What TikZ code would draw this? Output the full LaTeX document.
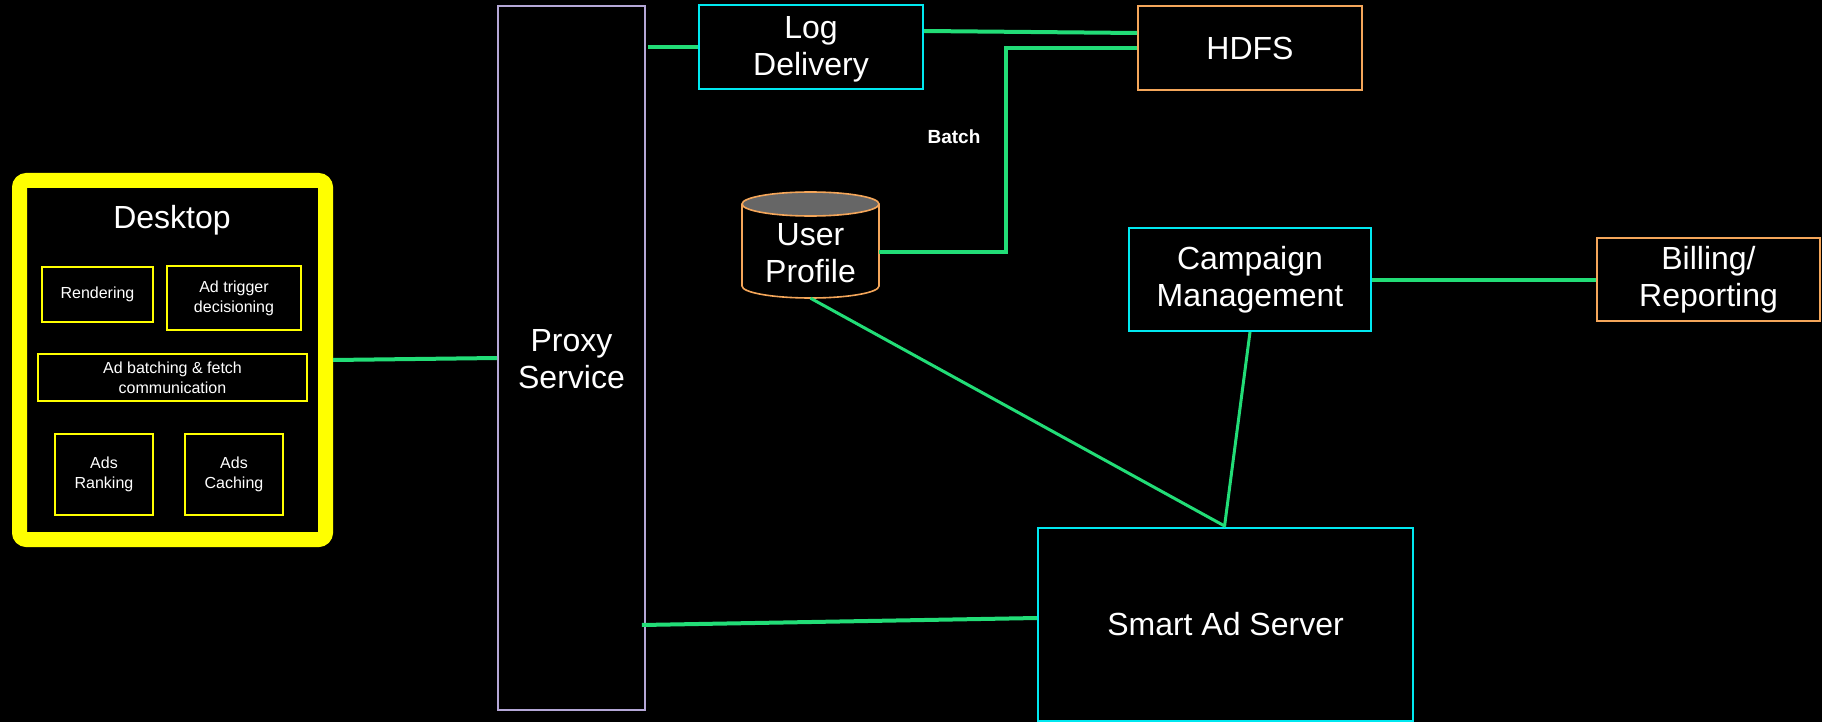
\documentclass[tikz,border=0pt]{standalone}
\usepackage{fontspec}
\setmainfont{Liberation Sans}
\usetikzlibrary{calc}
\definecolor{linkgreen}{HTML}{22DD77}
\definecolor{boxcyan}{HTML}{00E8F0}
\definecolor{boxorange}{HTML}{F4A65A}
\definecolor{boxlav}{HTML}{B4A7D6}
\definecolor{boxyellow}{HTML}{FFFF00}
\definecolor{dbgray}{HTML}{666666}
\tikzset{
  big/.style={font=\fontsize{32}{37}\selectfont, text=white, align=center},
  small/.style={font=\fontsize{16}{20}\selectfont, text=white, align=center},
  boxbase/.style={rectangle, inner sep=0pt, fill=black},
  cyanbox/.style={boxbase, big, draw=boxcyan, line width=2pt},
  orangebox/.style={boxbase, big, draw=boxorange, line width=2pt},
  subbox/.style={boxbase, small, draw=boxyellow, line width=1.6pt},
  link/.style={draw=linkgreen, line width=4pt},
  thinlink/.style={draw=linkgreen, line width=3pt},
}
\begin{document}
\begin{tikzpicture}[x=1pt, y=-1pt]
  % canvas
  \fill[black] (0,0) rectangle (1822,722);
  \useasboundingbox (0,0) rectangle (1822,722);

  % client container
  \node[boxbase, draw=boxyellow, line width=15pt, rounded corners=7pt,
        minimum width=306pt, minimum height=359pt] (desk) at (172.5,360) {};
  \node[big] (desktitle) at (172,220) {Desktop};
  \node[subbox, minimum width=111pt, minimum height=55pt] (rend) at (97.5,294.5) {Rendering};
  \node[subbox, minimum width=134pt, minimum height=64pt] (trig) at (234,298) {Ad trigger\\decisioning};
  \node[subbox, minimum width=269pt, minimum height=47pt] (fetch) at (172.5,377.5) {Ad batching \& fetch\\communication};
  \node[subbox, minimum width=98pt, minimum height=81pt] (rank) at (104,474.5) {Ads\\Ranking};
  \node[subbox, minimum width=98pt, minimum height=81pt] (cache) at (234,474.5) {Ads\\Caching};

  % services
  \node[boxbase, big, draw=boxlav, line width=1.6pt,
        minimum width=147pt, minimum height=704pt] (proxy) at (571.5,358) {};
  \node[big] (proxytext) at (571.5,359) {Proxy\\Service};
  \node[cyanbox, minimum width=224pt, minimum height=84pt] (log) at (811,47) {};
  \node[big] (logtext) at (811,49) {Log\\Delivery};
  \node[orangebox, minimum width=224pt, minimum height=84pt] (hdfs) at (1250,48) {HDFS};
  \node[cyanbox, minimum width=242pt, minimum height=103pt] (camp) at (1250,279.5) {Campaign\\Management};
  \node[orangebox, minimum width=223pt, minimum height=83pt] (bill) at (1708.5,279.5) {Billing/\\Reporting};
  \node[cyanbox, minimum width=375pt, minimum height=193pt] (smart) at (1225.5,624) {Smart Ad Server};

  % user profile store (cylinder)
  \node[rectangle, inner sep=0pt, minimum width=137pt, minimum height=106pt] (up) at (810.5,245) {};
  \fill[black] (742,204) -- (742,286) arc[start angle=180, end angle=0, x radius=68.5, y radius=12] -- (879,204) -- cycle;
  \draw[boxorange, line width=1.6pt] (742,204) -- (742,286) arc[start angle=180, end angle=0, x radius=68.5, y radius=12] -- (879,204);
  \draw[boxorange, line width=1.6pt, fill=dbgray] (810.5,204) ellipse[x radius=68.5, y radius=12];
  \node[big] (uptext) at (810.5,253) {User\\Profile};

  % connectors
  \draw[link] (desk.east) -- (proxy.west);
  \draw[link] ([xshift=2pt]proxy.east |- log.west) -- (log.west);
  \draw[link] ([yshift=16pt]log.east) -- ([yshift=15pt]hdfs.west);
  \draw[link] (hdfs.west) -- ++(-131,0) |- ([yshift=-7pt]up.east);
  \node[font=\bfseries\fontsize{19}{22}\selectfont, text=white] (batchlbl) at (954,137) {Batch};
  \draw[thinlink] (up.south) -- (smart.north);
  \draw[thinlink] (camp.south) -- ([xshift=-1pt]smart.north);
  \draw[link] (camp.east) -- (bill.west);
  \draw[link] ([xshift=-4pt,yshift=-1pt]proxy.east |- smart.west) -- ([yshift=6pt]smart.west);
\end{tikzpicture}
\end{document}
